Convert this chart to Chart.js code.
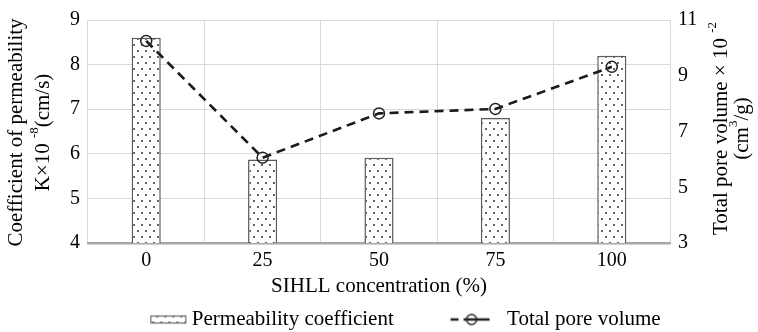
<!DOCTYPE html>
<html lang="en">
<head>
<meta charset="UTF-8">
<title>Permeability coefficient and total pore volume</title>
<script src="https://cdn.jsdelivr.net/npm/chart.js"></script>
<style>
  html, body { margin: 0; padding: 0; background: #fff; }
</style>
</head>
<body>
<div style="width: 758px; height: 332px;">
  <canvas id="chart"></canvas>
</div>
<script>
  const concentrations = ['0', '25', '50', '75', '100'];
  const permeability = [8.6, 5.87, 5.91, 6.8, 8.2];     // K x 10^-8 cm/s
  const poreVolume = [10.25, 6.06, 7.65, 7.81, 9.32];   // x 10^-2 cm3/g
  const leftTicks = [4, 5, 6, 7, 8, 9];
  const rightTicks = [3, 5, 7, 9, 11];

  const FAMILY = "'Liberation Serif', 'Times New Roman', serif";
  Chart.defaults.font.family = FAMILY;
  Chart.defaults.color = '#000';

  const canvas = document.getElementById('chart');
  const ctx = canvas.getContext('2d');

  // dotted fill for the bars
  function dotTile() {
    const c = document.createElement('canvas');
    c.width = 8; c.height = 12;
    const g = c.getContext('2d');
    g.fillStyle = '#fff';
    g.fillRect(0, 0, 8, 12);
    g.fillStyle = '#222';
    [[2, 3], [6, 9]].forEach(([x, y]) => {
      g.beginPath(); g.arc(x, y, 0.95, 0, Math.PI * 2); g.fill();
    });
    return c;
  }
  const dots = ctx.createPattern(dotTile(), 'repeat');

  // legend icons: box is ICON_W wide, the canvas is 12px wider so it can sit close to the text
  const ICON_W = 84;
  function barIcon() {
    const c = document.createElement('canvas');
    c.width = ICON_W + 12; c.height = 12;
    const g = c.getContext('2d');
    g.fillStyle = g.createPattern(dotTile(), 'repeat');
    g.fillRect(59, 2, 36, 8);
    g.strokeStyle = '#666'; g.lineWidth = 1.2;
    g.strokeRect(59.5, 2.5, 35, 7);
    return c;
  }
  function lineIcon() {
    const c = document.createElement('canvas');
    c.width = ICON_W + 12; c.height = 14;
    const g = c.getContext('2d');
    g.strokeStyle = '#222'; g.lineWidth = 2.5;
    g.beginPath();
    g.moveTo(44, 7); g.lineTo(52, 7);
    g.moveTo(57, 7); g.lineTo(83, 7);
    g.stroke();
    g.lineWidth = 1.4;
    g.beginPath(); g.arc(65, 7, 5, 0, Math.PI * 2); g.stroke();
    return c;
  }

  function drawRich(c, parts, size) {
    const norm = size + 'px ' + FAMILY;
    const sup = Math.round(size * 0.62) + 'px ' + FAMILY;
    let total = 0;
    parts.forEach(p => { c.font = p[1] ? sup : norm; total += c.measureText(p[0]).width; });
    let x = -total / 2;
    parts.forEach(p => {
      c.font = p[1] ? sup : norm;
      c.fillText(p[0], x, p[1] ? -size * 0.38 : 0);
      x += c.measureText(p[0]).width;
    });
  }

  // rotated axis titles (both read bottom to top)
  const axisTitles = {
    id: 'axisTitles',
    afterDraw(chart) {
      const c = chart.ctx;
      const area = chart.chartArea;
      const yc = (area.top + area.bottom) / 2;
      const left = chart.scales.y.left;
      const right = chart.scales.y2.right;
      const lines = [
        [left + 16, yc + 1, [['Coefficient of permeability', false]]],
        [left + 43, yc + 1, [['K\u00d710 ', false], ['-8', true], ['(cm/s)', false]]],
        [right - 37, yc - 3, [['Total pore volume \u00d7 10 ', false], ['-2', true]]],
        [right - 16, yc - 3, [['(cm', false], ['3', true], ['/g)', false]]]
      ];
      c.save();
      c.fillStyle = '#000';
      c.textAlign = 'left';
      c.textBaseline = 'middle';
      lines.forEach(([x, y, parts]) => {
        c.save();
        c.translate(x, y);
        c.rotate(-Math.PI / 2);
        drawRich(c, parts, 21);
        c.restore();
      });
      c.restore();
    }
  };

  new Chart(canvas, {
    data: {
      labels: concentrations,
      datasets: [
        {
          type: 'line',
          label: 'Total pore volume',
          data: poreVolume,
          yAxisID: 'y2',
          order: 0,
          borderColor: '#1a1a1a',
          borderWidth: 2.6,
          borderDash: [9, 6],
          fill: false,
          tension: 0,
          pointRadius: 5.5,
          pointBorderWidth: 1.5,
          pointBorderColor: '#222',
          pointBackgroundColor: 'rgba(0,0,0,0)'
        },
        {
          type: 'bar',
          label: 'Permeability coefficient',
          data: permeability,
          yAxisID: 'y',
          order: 1,
          backgroundColor: dots,
          borderColor: '#5a5a5a',
          borderWidth: 1.5,
          borderSkipped: false,
          categoryPercentage: 1,
          barPercentage: 0.25
        }
      ]
    },
    options: {
      responsive: true,
      maintainAspectRatio: false,
      animation: false,
      events: [],
      layout: { padding: { top: 16, left: 0, right: 0, bottom: -8 } },
      plugins: {
        tooltip: { enabled: false },
        legend: {
          position: 'bottom',
          labels: {
            usePointStyle: true,
            pointStyleWidth: ICON_W,
            padding: 3,
            font: { size: 21 },
            color: '#000',
            generateLabels: () => [
              { text: 'Permeability coefficient   ', pointStyle: barIcon(), lineWidth: 0, strokeStyle: 'transparent', fillStyle: 'transparent', datasetIndex: 1 },
              { text: 'Total pore volume', pointStyle: lineIcon(), lineWidth: 0, strokeStyle: 'transparent', fillStyle: 'transparent', datasetIndex: 0 }
            ]
          }
        }
      },
      scales: {
        x: {
          offset: true,
          grid: { offset: true, color: '#d9d9d9', drawTicks: false },
          border: { color: '#a6a6a6', width: 2.5 },
          ticks: { padding: 6, font: { size: 20 } },
          title: {
            display: true,
            text: 'SIHLL concentration (%)',
            font: { size: 21 },
            padding: { top: 0, bottom: 7 }
          },
          afterFit: s => { s.height = 63; }
        },
        y: {
          position: 'left',
          min: leftTicks[0],
          max: leftTicks[leftTicks.length - 1],
          afterBuildTicks: s => { s.ticks = leftTicks.map(v => ({ value: v })); },
          grid: { color: '#d9d9d9', drawTicks: false },
          border: { display: false },
          ticks: { padding: 8, font: { size: 20 } },
          afterFit: s => { s.width = 88; }
        },
        y2: {
          position: 'right',
          min: rightTicks[0],
          max: rightTicks[rightTicks.length - 1],
          afterBuildTicks: s => { s.ticks = rightTicks.map(v => ({ value: v })); },
          grid: { display: false, drawTicks: false },
          border: { display: false },
          ticks: { padding: 8, font: { size: 20 } },
          afterFit: s => { s.width = 88; }
        }
      }
    },
    plugins: [axisTitles]
  });
</script>
</body>
</html>
